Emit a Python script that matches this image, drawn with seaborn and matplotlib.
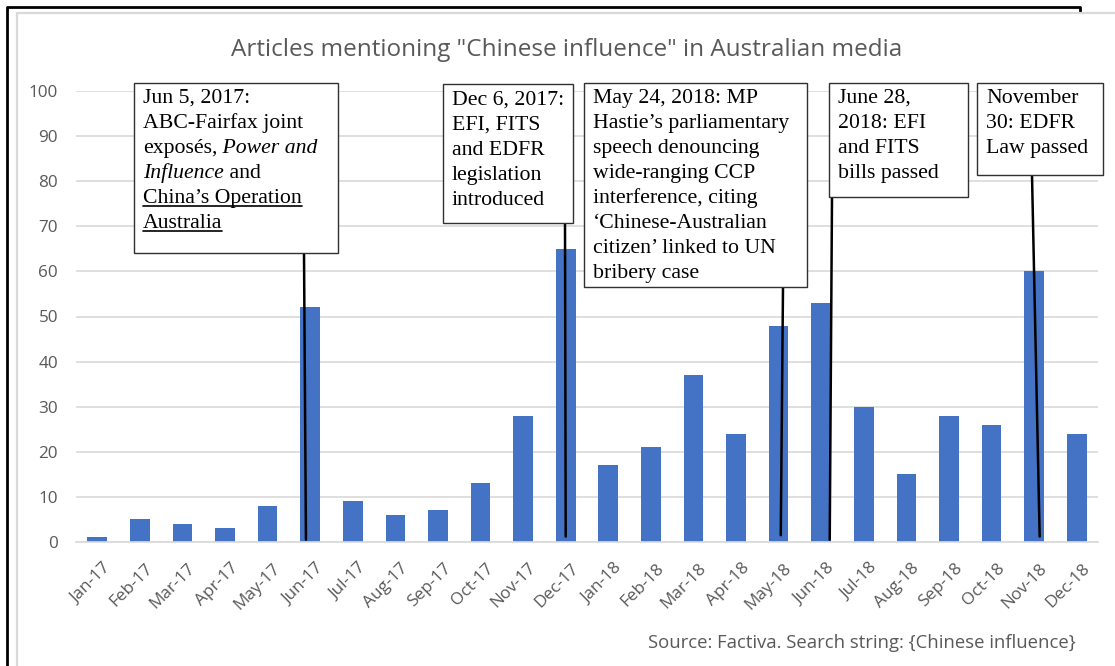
import matplotlib
matplotlib.use('Agg')
import matplotlib.pyplot as plt
import seaborn as sns
from matplotlib.lines import Line2D
from matplotlib.patches import Rectangle
from matplotlib.transforms import ScaledTranslation

# data
months = ['Jan-17', 'Feb-17', 'Mar-17', 'Apr-17', 'May-17', 'Jun-17', 'Jul-17', 'Aug-17',
          'Sep-17', 'Oct-17', 'Nov-17', 'Dec-17', 'Jan-18', 'Feb-18', 'Mar-18', 'Apr-18',
          'May-18', 'Jun-18', 'Jul-18', 'Aug-18', 'Sep-18', 'Oct-18', 'Nov-18', 'Dec-18']
articles = [1, 5, 4, 3, 8, 52, 9, 6, 7, 13, 28, 65, 17, 21, 37, 24, 48, 53, 30, 15, 28, 26, 60, 24]
yticks = list(range(0, 101, 10))

title = 'Articles mentioning "Chinese influence" in Australian media'
source = 'Source: Factiva. Search string: {Chinese influence}'

# annotation texts: each line is a list of (text, style) ; style '' / 'i' italic / 'u' underline
notes = [
    [[('Jun 5, 2017:', '')], [('ABC-Fairfax joint', '')],
     [('exposés,', ''), (' Power and', 'i')], [('Influence', 'i'), (' and', '')],
     [('China’s Operation', 'u')], [('Australia', 'u')]],
    [[('Dec 6, 2017:', '')], [('EFI, FITS', '')], [('and EDFR', '')],
     [('legislation', '')], [('introduced', '')]],
    [[('May 24, 2018: MP', '')], [('Hastie’s parliamentary', '')], [('speech denouncing', '')],
     [('wide-ranging CCP', '')], [('interference, citing', '')], [('‘Chinese-Australian', '')],
     [('citizen’ linked to UN', '')], [('bribery case', '')]],
    [[('June 28,', '')], [('2018: EFI', '')], [('and FITS', '')], [('bills passed', '')]],
    [[('November', '')], [('30: EDFR', '')], [('Law passed', '')]],
]
note_month = ['Jun-17', 'Dec-17', 'May-18', 'Jun-18', 'Nov-18']

# layout (pixels, top-left origin)
W, H = 1115, 666
def fx(px):
    return px / W
def fy(py):
    return 1 - py / H

boxes = [(134, 83, 338, 253), (443, 84, 573, 223), (584, 83, 807, 287),
         (829, 83, 968, 197), (977, 83, 1103, 175)]
first_base = [103, 105, 103, 103, 103]
line_top_x = [304, 565, 783, 832, 1032]
line_shift = [-0.1, 0.0, 0.05, 0.2, 0.13]
line_end_y = [0.5, 1.2, 1.5, 0.5, 1.2]

gray = '#595959'
grid = '#D9D9D9'

sns.set_style('white')
plt.rcParams['font.family'] = ['Open Sans', 'DejaVu Sans']

fig = plt.figure(figsize=(11.15, 6.66), dpi=100)
ax = fig.add_axes([fx(76), fy(542), fx(1098) - fx(76), fy(91) - fy(542)])

sns.barplot(x=months, y=articles, color='#4472C4', saturation=1, width=0.46,
            ax=ax, zorder=2, linewidth=0)

ax.set_xlim(-0.5, 23.5)
ax.set_ylim(0, 100)
ax.set_yticks(yticks)
ax.yaxis.grid(True, color=grid, lw=1.2)
ax.set_axisbelow(True)
ax.set_xlabel('')
ax.set_ylabel('')
for s in ['left', 'top', 'right']:
    ax.spines[s].set_visible(False)
ax.spines['bottom'].set_color(grid)
ax.spines['bottom'].set_linewidth(1.2)

ax.set_xticks([i - 0.5 for i in range(len(months) + 1)], minor=True)
ax.tick_params(axis='x', which='major', length=0, pad=13, labelsize=12.3, labelcolor=gray)
ax.tick_params(axis='x', which='minor', length=6, width=1.2, color=grid)
ax.tick_params(axis='y', length=0, pad=13, labelsize=12.3, labelcolor=gray)
shift = ScaledTranslation(0.05, 0, fig.dpi_scale_trans)
for lab in ax.get_xticklabels():
    lab.set_rotation(45)
    lab.set_ha('right')
    lab.set_va('top')
    lab.set_rotation_mode('anchor')
    lab.set_transform(lab.get_transform() + shift)

fig.text(fx(567), fy(56), title, ha='center', va='baseline', fontsize=17.5, color=gray)
fig.text(fx(1076), fy(648), source, ha='right', va='baseline', fontsize=13.3, color=gray)

# page borders
fig.add_artist(Line2D([fx(7), fx(7), fx(1080), fx(1080)], [fy(666), fy(7), fy(7), fy(12)],
                      color='black', lw=2, transform=fig.transFigure))
fig.add_artist(Line2D([fx(17), fx(17), fx(1115)], [fy(666), fy(13), fy(13)],
                      color=grid, lw=1.6, transform=fig.transFigure))

renderer = fig.canvas.get_renderer()
serif = ['Liberation Serif', 'DejaVu Serif']
for k, lines in enumerate(notes):
    x0, y0, x1, y1 = boxes[k]
    fig.add_artist(Rectangle((fx(x0), fy(y1)), fx(x1) - fx(x0), fy(y0) - fy(y1),
                             transform=fig.transFigure, facecolor='white',
                             edgecolor='#303030', lw=1, zorder=3))
    i = months.index(note_month[k])
    ax.annotate('', xy=(i + line_shift[k], line_end_y[k]), xycoords='data',
                xytext=(fx(line_top_x[k]), fy(y1)), textcoords='figure fraction',
                arrowprops=dict(arrowstyle='-', color='black', lw=1.8, shrinkA=0, shrinkB=0),
                annotation_clip=False)
    for j, parts in enumerate(lines):
        base = first_base[k] + 25 * j
        xc = x0 + 9
        for txt, style in parts:
            t = fig.text(fx(xc), fy(base), txt, ha='left', va='baseline', fontsize=15.7,
                         family=serif, color='black', zorder=4,
                         style='italic' if style == 'i' else 'normal')
            bb = t.get_window_extent(renderer)
            if style == 'u':
                fig.add_artist(Line2D([fx(bb.x0), fx(bb.x1)], [fy(base + 3), fy(base + 3)],
                                      color='black', lw=1.2, transform=fig.transFigure, zorder=4))
            xc = bb.x1

fig.savefig('out.png', dpi=100)
